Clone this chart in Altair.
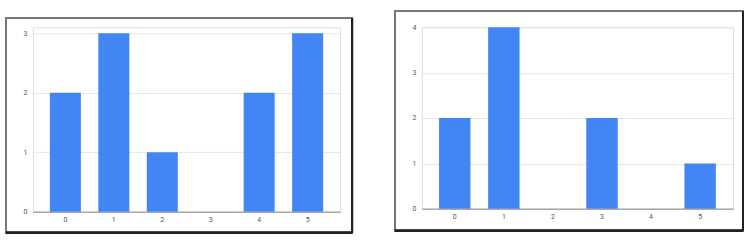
import altair as alt
import pandas as pd

categories = ["0", "1", "2", "3", "4", "5"]
left_values = [2, 3, 1, 0, 2, 3]
right_values = [2, 4, 0, 2, 0, 1]

BLUE = "#4285F4"
FONT = "Roboto"

df_left = pd.DataFrame({"cat": categories, "val": left_values})
df_right = pd.DataFrame({"cat": categories, "val": right_values})


def panel(df, ymax, w, h, yrange, frame):
    x_enc = alt.X(
        "cat:N",
        sort=categories,
        title=None,
        scale=alt.Scale(paddingInner=0.36, paddingOuter=0.35),
        axis=alt.Axis(
            labelAngle=0,
            ticks=False,
            domainColor="#aaaaaa",
            domainWidth=1.5,
            labelFontSize=7,
            labelColor="#555555",
            labelFont=FONT,
            labelPadding=4,
            grid=False,
        ),
    )
    y_enc = alt.Y(
        "val:Q",
        title=None,
        scale=alt.Scale(domain=[0, ymax], nice=False, range=yrange),
        axis=alt.Axis(
            values=list(range(ymax + 1)),
            ticks=False,
            domain=False,
            labelFontSize=7,
            labelColor="#555555",
            labelFont=FONT,
            labelPadding=6,
            gridColor="#e6e6e6",
            format="d",
        ),
    )
    bars = alt.Chart(df).mark_bar(color=BLUE).encode(x=x_enc, y=y_enc)
    x0, x1, y0, y1 = frame
    box = alt.Chart(df).mark_rect(
        fillOpacity=0, stroke="#777777", strokeWidth=1.5
    ).encode(x=alt.value(x0), x2=alt.value(x1), y=alt.value(y0), y2=alt.value(y1))
    bottom = alt.Chart(df).mark_rule(color="#222222", strokeWidth=2).encode(
        x=alt.value(x0), x2=alt.value(x1), y=alt.value(y1)
    )
    right = alt.Chart(df).mark_rule(color="#222222", strokeWidth=2).encode(
        x=alt.value(x1), y=alt.value(y0), y2=alt.value(y1)
    )
    return alt.layer(box, bars, bottom, right).properties(width=w, height=h)


left = panel(df_left, 3, 308, 185, [185, 6], (-27, 320, -9, 206))
rightp = panel(df_right, 4, 312, 182, [182, 0], (-27, 322, -16, 204))

chart = (
    alt.hconcat(left, rightp, spacing=82, bounds="flush")
    .properties(padding={"left": 4, "top": 9, "right": 0, "bottom": 0})
    .configure_view(stroke=None)
    .configure(background="white")
)

chart.save("out.html", embed_options={"renderer": "svg", "actions": False})
